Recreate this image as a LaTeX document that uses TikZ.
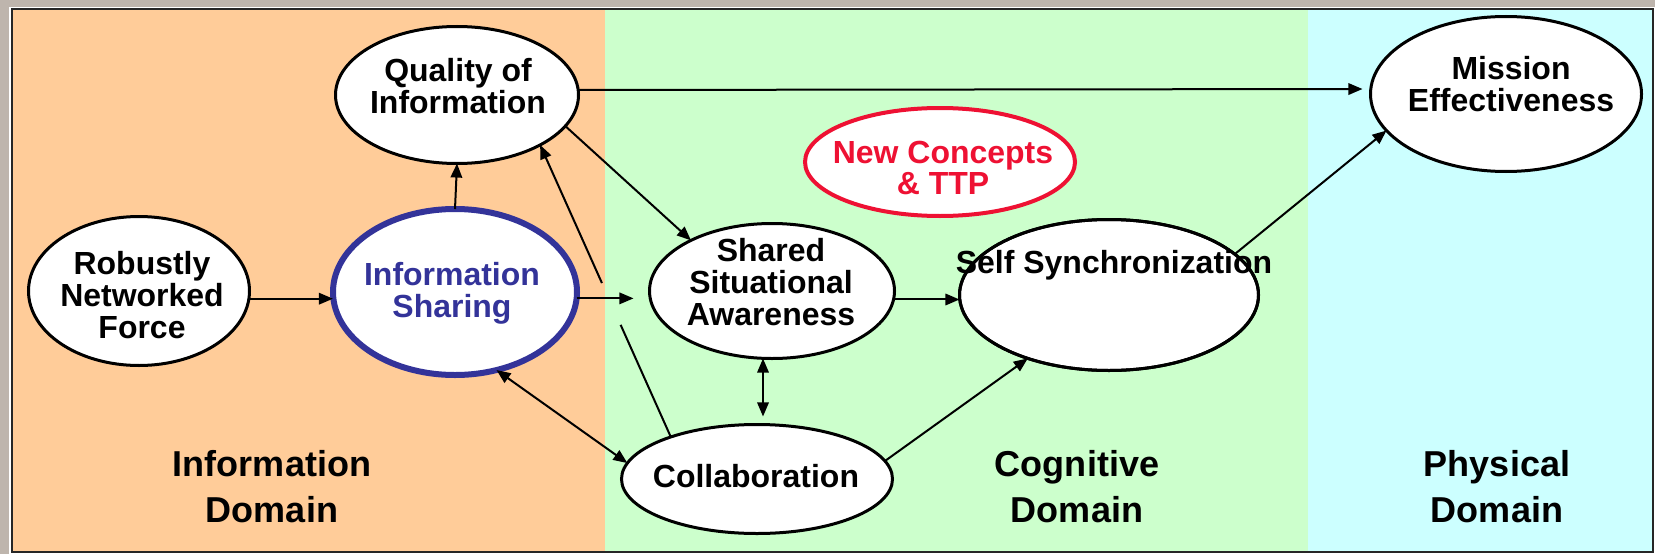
\documentclass[tikz,border=0pt]{standalone}
\usepackage{fontspec}
\setmainfont{Liberation Sans}
\usetikzlibrary{shapes.geometric,arrows.meta,calc}
\newdimen\pxu \pxu=0.02cm
\definecolor{margingray}{RGB}{190,181,173}
\definecolor{infofill}{HTML}{FFCC99}
\definecolor{cogfill}{HTML}{CCFFCC}
\definecolor{physfill}{HTML}{CCFFFF}
\definecolor{shareblue}{RGB}{51,51,153}
\definecolor{conceptred}{RGB}{238,17,51}
\begin{document}
\begin{tikzpicture}[x=0.02cm,y=-0.02cm,
  ell/.style={ellipse, draw=black, line width=3\pxu, fill=white, inner sep=0pt, outer sep=0pt},
  lbl/.style={font=\bfseries\fontsize{18.2pt}{18.2pt}\selectfont, align=center, inner sep=0pt},
  dom/.style={font=\bfseries\fontsize{20.5pt}{26.2pt}\selectfont, align=center, inner sep=0pt},
  tip/.tip={Triangle[length=8pt,width=6.5pt]},
  arr/.style={line width=2\pxu, -tip},
  dbl/.style={line width=2\pxu, tip-tip},
  link/.style={line width=2\pxu}
]
\useasboundingbox (0,0) rectangle (1655,554);

% frame and domain bands
\fill[margingray] (0,0) rectangle (1655,554);
\fill[white] (9,7) rectangle (1655,554);
\fill[infofill] (13,10) rectangle (605,552);
\fill[cogfill] (605,10) rectangle (1308,552);
\fill[physfill] (1308,10) rectangle (1652,552);
\draw[line width=2\pxu, black!85] (12,9) rectangle (1653,552);

% domain titles
\node[dom] (dinfo) at (272,487) {Information\\Domain};
\node[dom] (dcog) at (1077,487) {Cognitive\\Domain};
\node[dom] (dphys) at (1497,487) {Physical\\Domain};

% concept ellipses
\node[ell, minimum width=243\pxu, minimum height=137\pxu] (q) at (457,95) {};
\node[lbl] (qt) at (458,86) {Quality of\\Information};

\node[ell, minimum width=221\pxu, minimum height=149\pxu] (r) at (139,291) {};
\node[lbl] (rt) at (142,295) {Robustly\\Networked\\Force};

\node[ell, draw=shareblue, line width=6\pxu, minimum width=244\pxu, minimum height=166\pxu] (is) at (455,292) {};
\node[lbl, text=shareblue] (ist) at (452,293) {Information\\Sharing};

\node[ell, minimum width=245\pxu, minimum height=135\pxu] (ssa) at (772,291) {};
\node[lbl] (ssat) at (771,282) {Shared\\Situational\\Awareness};

\node[ell, minimum width=271\pxu, minimum height=109\pxu] (c) at (757,479) {};
\node[lbl] (ct) at (756,476) {Collaboration};

\node[ell, draw=conceptred, line width=4\pxu, minimum width=270\pxu, minimum height=108\pxu] (nc) at (940,162) {};
\node[lbl, text=conceptred] (nct) at (943,168) {New Concepts\\\& TTP};

\node[ell, minimum width=299\pxu, minimum height=151\pxu] (s) at (1109,295) {};
\node[lbl] (st) at (1114,265) {Self Synchronization};
\node[ellipse, draw=black, line width=3\pxu, inner sep=0pt, outer sep=0pt,
      minimum width=299\pxu, minimum height=151\pxu] (sb) at (s) {};

\node[ell, minimum width=271\pxu, minimum height=155\pxu] (m) at (1506,94) {};
\node[lbl] (mt) at (1511,84) {Mission\\Effectiveness};

% connectors
\draw[arr] (r.-4) -- (r.-4 -| is.west);
\draw[arr] (is.north) -- (q.south);
\draw[arr, shorten >=8\pxu] ([yshift=5\pxu]q.east) -- ([yshift=5\pxu]m.west);
\draw[arr] (q.-16) -- (ssa.148);
\draw[arr, shorten >=16\pxu] (is.-3) -- (is.-3 -| ssa.west);
\draw[arr] (ssa.-4) -- (ssa.-4 -| s.west);
\draw[dbl, shorten >=8\pxu] ([xshift=-9\pxu]ssa.south) -- ([xshift=-9\pxu]ssa.south |- c.north);
\draw[dbl] (is.-62) -- (c.173);
\draw[arr] (c.8) -- (s.-142);
\draw[arr] (s.18) -- (m.-163);

% collaboration feeds quality, broken where it crosses the sharing arrow
\coordinate (ca) at ($(c.154)!0.384!(q.-31)$);
\coordinate (cb) at ($(c.154)!0.527!(q.-31)$);
\draw[link] (c.154) -- (ca);
\draw[arr] (cb) -- (q.-31);
\end{tikzpicture}
\end{document}
